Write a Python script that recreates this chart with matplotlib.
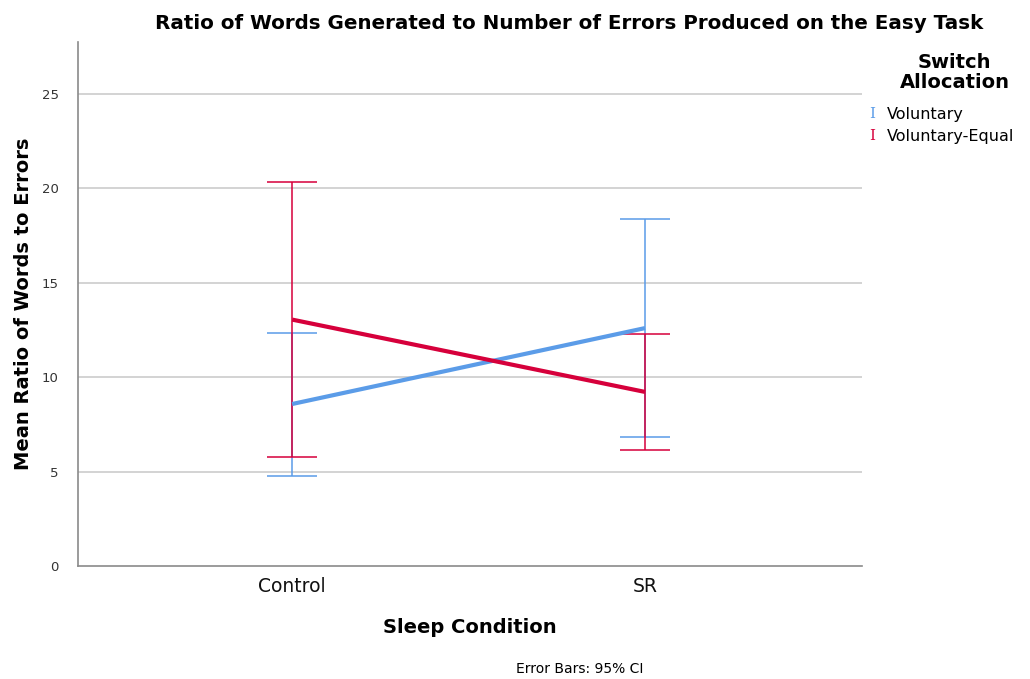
import matplotlib
matplotlib.use("Agg")
import matplotlib.pyplot as plt
import numpy as np

# Sleep condition groups and switch allocation series
conditions = ["Control", "SR"]
groups = ["Voluntary", "Voluntary-Equal"]
means = {
    "Voluntary": [8.58, 12.60],
    "Voluntary-Equal": [13.05, 9.22],
}
ci_low = {
    "Voluntary": [4.77, 6.83],
    "Voluntary-Equal": [5.78, 6.14],
}
ci_high = {
    "Voluntary": [12.35, 18.38],
    "Voluntary-Equal": [20.33, 12.29],
}
colors = {"Voluntary": "#5b9ce8", "Voluntary-Equal": "#d6003b"}
yticks = [0, 5, 10, 15, 20, 25]

fig = plt.figure(figsize=(10.3, 6.79), dpi=100)
ax = fig.add_axes([0.0757, 0.1664, 0.7612, 0.7717])

x = np.arange(len(conditions))
for g in groups:
    m = np.array(means[g])
    lo = m - np.array(ci_low[g])
    hi = np.array(ci_high[g]) - m
    ax.errorbar(x, m, yerr=[lo, hi], fmt='none', ecolor=colors[g],
                elinewidth=1.3, capsize=18, capthick=1.3, alpha=0.85, zorder=3)
    ax.plot(x, m, color=colors[g], lw=3, zorder=4, solid_capstyle='butt')

ax.set_xlim(-0.607, 1.615)
ax.set_ylim(0, 27.75)
ax.set_yticks(yticks)
ax.set_xticks(x)
ax.set_xticklabels(conditions, fontsize=13.5, color='#111111')
ax.tick_params(axis='y', length=0, labelsize=9.5, labelcolor='#333333', pad=14)
ax.tick_params(axis='x', length=0, pad=8)
for yv in yticks[1:]:
    ax.axhline(yv, color='#c8c8c8', lw=1.1, zorder=1)
for s in ['top', 'right']:
    ax.spines[s].set_visible(False)
for s in ['left', 'bottom']:
    ax.spines[s].set_color('#8a8a8a')
    ax.spines[s].set_linewidth(1.2)

ax.set_ylabel("Mean Ratio of Words to Errors", fontsize=14, fontweight='bold', labelpad=6)
ax.set_xlabel("Sleep Condition", fontsize=14, fontweight='bold', labelpad=16)

fig.text(0.553, 0.965, "Ratio of Words Generated to Number of Errors Produced on the Easy Task",
         ha='center', va='center', fontsize=14.3, fontweight='bold')
fig.text(0.563, 0.004, "Error Bars: 95% CI", ha='center', va='bottom', fontsize=10)

# legend
fig.text(0.927, 0.893, "Switch\nAllocation", ha='center', va='center', fontsize=14,
         fontweight='bold', linespacing=1.05)
for i, g in enumerate(groups):
    yy = 0.832 - i * 0.033
    fig.text(0.847, yy, "I", color=colors[g], ha='center', va='center', fontsize=11,
             family='DejaVu Serif')
    fig.text(0.861, yy, g, ha='left', va='center', fontsize=11.5)

fig.savefig("out.png", dpi=100)
